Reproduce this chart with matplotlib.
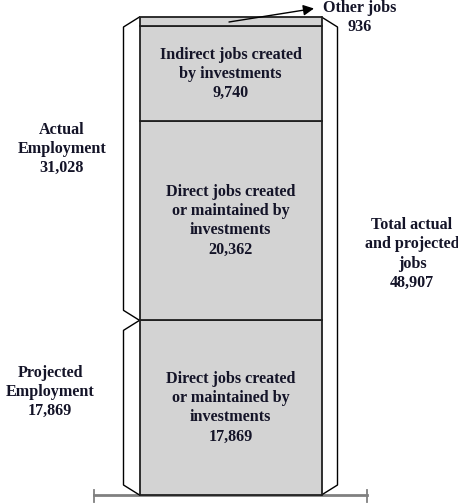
import numpy as np
import matplotlib
matplotlib.use('Agg')
import matplotlib.pyplot as plt

# ============================================================
# Data
# ============================================================
segment_names = ['Projected direct', 'Actual direct', 'Indirect', 'Other']
segment_values = [17869, 20362, 9740, 936]
segment_labels = ['Direct jobs created\nor maintained by\ninvestments\n17,869',
                  'Direct jobs created\nor maintained by\ninvestments\n20,362',
                  'Indirect jobs created\nby investments\n9,740',
                  '']
other_label = 'Other jobs\n936'
actual_label = 'Actual\nEmployment\n31,028'
projected_label = 'Projected\nEmployment\n17,869'
total_label = 'Total actual\nand projected\njobs\n48,907'

TOTAL = sum(segment_values)

# ============================================================
# Layout (pixels -> data helpers)
# ============================================================
W, H = 458, 503
Y0_PX, YTOP_PX = 495.0, 17.0
PX = TOTAL / (Y0_PX - YTOP_PX)          # jobs per pixel

def py(p):
    return (Y0_PX - p) * PX

TXT = '#141428'
FS = 11.6
LS = 1.27
plt.rcParams['font.family'] = ['Liberation Serif', 'DejaVu Serif']

fig = plt.figure(figsize=(W / 100, H / 100), dpi=100)
ax = fig.add_axes([0, 0, 1, 1])
ax.set_xlim(0, W)
ax.set_ylim(py(H), py(0))
ax.axis('off')

# stacked bar
bar_x, bar_w = 230.5, 182
bottoms = np.concatenate([[0], np.cumsum(segment_values)[:-1]])
ax.bar([bar_x] * len(segment_values), segment_values, bottom=bottoms, width=bar_w,
       color='#d3d3d3', edgecolor='#202020', linewidth=1.3, zorder=3)
for v, b, lab in zip(segment_values, bottoms, segment_labels):
    if lab:
        ax.text(bar_x, b + v / 2, lab, ha='center', va='center', fontsize=FS,
                fontweight='bold', color=TXT, linespacing=LS, zorder=4)

# braces
left, right = bar_x - bar_w / 2, bar_x + bar_w / 2
d = 10 * PX
proj_top = segment_values[0]
ax.plot([left, left - 16, left - 16, left], [TOTAL, TOTAL - d, proj_top + d, proj_top],
        color='black', lw=1, zorder=2)
ax.plot([left, left - 16, left - 16, left], [proj_top, proj_top - d, d, 0],
        color='black', lw=1, zorder=2)
ax.plot([right, right + 16, right + 16, right], [TOTAL, TOTAL - d, d, 0],
        color='black', lw=1, zorder=2)

# baseline
ax.plot([94, 367], [py(495), py(495)], color='#808080', lw=2, zorder=1)
for xt in [94, 367]:
    ax.plot([xt, xt], [py(490), py(502)], color='#808080', lw=1.3, zorder=1)

# other jobs arrow + label
ax.annotate('', xy=(314, py(8.5)), xytext=(229, py(22)),
            arrowprops=dict(arrowstyle='-|>', color='black', lw=1,
                            mutation_scale=16, shrinkA=0, shrinkB=0), zorder=5)
ax.text(360, py(17.5), other_label, ha='center', va='center', fontsize=FS,
        fontweight='bold', color=TXT, linespacing=LS)

# side labels
ax.text(62, py(149), actual_label, ha='center', va='center', fontsize=FS,
        fontweight='bold', color=TXT, linespacing=LS)
ax.text(50, py(392), projected_label, ha='center', va='center', fontsize=FS,
        fontweight='bold', color=TXT, linespacing=LS)
ax.text(412, py(254), total_label, ha='center', va='center', fontsize=FS,
        fontweight='bold', color=TXT, linespacing=LS)

fig.savefig('out.png', dpi=100, facecolor='white')
